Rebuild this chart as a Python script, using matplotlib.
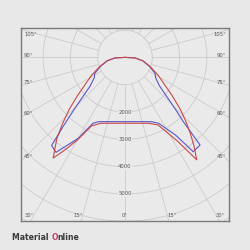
import matplotlib
matplotlib.use('Agg')
import matplotlib.pyplot as plt
import numpy as np

# luminous intensity (cd) vs angle from nadir (deg), two planes, both half-sides
red_left_ang = [0, 10, 20, 26, 30, 33, 35.5, 38, 40, 43, 47, 51, 56, 62, 70, 79, 87, 93]
red_left_cd = [2410, 2450, 2565, 2790, 3500, 4040, 4530, 4150, 3880, 3390, 2800, 2250, 1750, 1380, 990, 680, 380, 0]
red_right_ang = [0, 10, 19.5, 26, 32, 35, 38, 40.5, 43.5, 47, 51, 56, 62, 70, 79, 87, 93]
red_right_cd = [2410, 2450, 2560, 2750, 3600, 4580, 4100, 3700, 3250, 2750, 2220, 1720, 1360, 980, 680, 380, 0]

blue_left_ang = [0, 10, 20, 22.5, 26, 30, 36, 39.8, 42, 44, 47, 50.5, 56.5, 62, 70, 79, 87, 93]
blue_left_cd = [2355, 2390, 2505, 2550, 2690, 3420, 4300, 4200, 3350, 2750, 2120, 1660, 1350, 1260, 950, 660, 370, 0]
blue_right_ang = [0, 10, 22.5, 27, 33, 35.9, 40.6, 42.2, 44.1, 46.7, 50.4, 56.6, 62, 70, 79, 87, 93]
blue_right_cd = [2355, 2390, 2550, 2710, 3380, 4265, 4225, 3180, 2670, 2120, 1640, 1340, 1250, 950, 660, 370, 0]

ring_values = [1000, 2000, 3000, 4000, 5000, 6000, 7000]
ring_labels = [2000, 3000, 4000, 5000]
side_angles = [45, 60, 75, 90, 105]
bottom_angles = [0, 15, 30]

BG = '#e8e8e8'
GRID = '#cbcbcb'
TXT = '#555555'

# pixel geometry of the reference (250x250)
PX = 36.63                  # cd per pixel
CX, CY = 125, 57.4          # pole in pixels
BOX = (21, 28, 229, 221)    # left, top, right, bottom

xlo = (BOX[0] - CX) * PX
xhi = (BOX[2] - CX) * PX
ytop = (CY - BOX[1]) * PX
ybot = (CY - BOX[3]) * PX


def polar_xy(ang, cd, side):
    a = np.radians(np.asarray(ang, dtype=float))
    r = np.asarray(cd, dtype=float)
    return side * r * np.sin(a), -r * np.cos(a)


def curve(left_ang, left_cd, right_ang, right_cd):
    xl, yl = polar_xy(left_ang, left_cd, -1)
    xr, yr = polar_xy(right_ang, right_cd, 1)
    return np.concatenate([xl[::-1], xr]), np.concatenate([yl[::-1], yr])


fig = plt.figure(figsize=(2.5, 2.5), dpi=100, facecolor=BG)
ax = fig.add_axes([BOX[0] / 250, 1 - BOX[3] / 250,
                   (BOX[2] - BOX[0]) / 250, (BOX[3] - BOX[1]) / 250])
ax.set_facecolor('#eaeaea')
ax.set_xlim(xlo, xhi)
ax.set_ylim(ybot, ytop)
ax.set_xticks([])
ax.set_yticks([])
for s in ax.spines.values():
    s.set_color('#7a7a7a')
    s.set_linewidth(1.0)

# grid rings
t = np.linspace(0, 2 * np.pi, 400)
for rv in ring_values:
    ax.plot(rv * np.cos(t), rv * np.sin(t), color=GRID, lw=0.6, zorder=1)

# radial lines every 15 deg, starting at the first ring
for a in np.arange(0, 360, 15):
    ar = np.radians(a)
    ax.plot([1000 * np.sin(ar), 12000 * np.sin(ar)],
            [-1000 * np.cos(ar), -12000 * np.cos(ar)],
            color=GRID, lw=0.6, zorder=1)

# ring labels on the nadir line
for rv in ring_labels:
    ax.text(0, -rv, str(rv), ha='center', va='center', fontsize=3.8, color=TXT,
            zorder=2, bbox=dict(boxstyle='square,pad=0.1', fc='#eaeaea', ec='none'))

# angle labels along the frame
mx = 3.0 * PX
for a in side_angles:
    ar = np.radians(a)
    y = -(abs(xlo) - mx) / np.tan(ar) + 2 * PX
    y = min(y, ytop - 6 * PX)
    ax.text(xlo + mx, y, f'{a}°', ha='left', va='center', fontsize=3.8, color=TXT)
    ax.text(xhi - mx, y, f'{a}°', ha='right', va='center', fontsize=3.8, color=TXT)
yb = ybot + 6 * PX
for a in bottom_angles:
    x = -yb * np.tan(np.radians(a))
    if a == 0:
        ax.text(0, yb, '0°', ha='center', va='center', fontsize=3.8, color=TXT)
    else:
        ax.text(-x, yb, f'{a}°', ha='right', va='center', fontsize=3.8, color=TXT)
        ax.text(x, yb, f'{a}°', ha='left', va='center', fontsize=3.8, color=TXT)

# intensity curves
bx, by = curve(blue_left_ang, blue_left_cd, blue_right_ang, blue_right_cd)
ax.plot(bx, by, color='#5656c8', lw=0.8, zorder=3)
rx, ry = curve(red_left_ang, red_left_cd, red_right_ang, red_right_cd)
ax.plot(rx, ry, color='#c94848', lw=0.8, zorder=4)

# logo text
fig.canvas.draw()
r = fig.canvas.get_renderer()
x0, yl = 12 / 250, 1 - 237 / 250
parts = [('Material ', '#3a3a3a'), ('O', '#c2406a'), ('nline', '#3a3a3a')]
for s, c in parts:
    tx = fig.text(x0, yl, s, fontsize=5.6, fontweight='bold', color=c, va='center', ha='left')
    bb = tx.get_window_extent(renderer=r)
    x0 += bb.width / fig.bbox.width

fig.savefig('out.png', dpi=100, facecolor=BG)
